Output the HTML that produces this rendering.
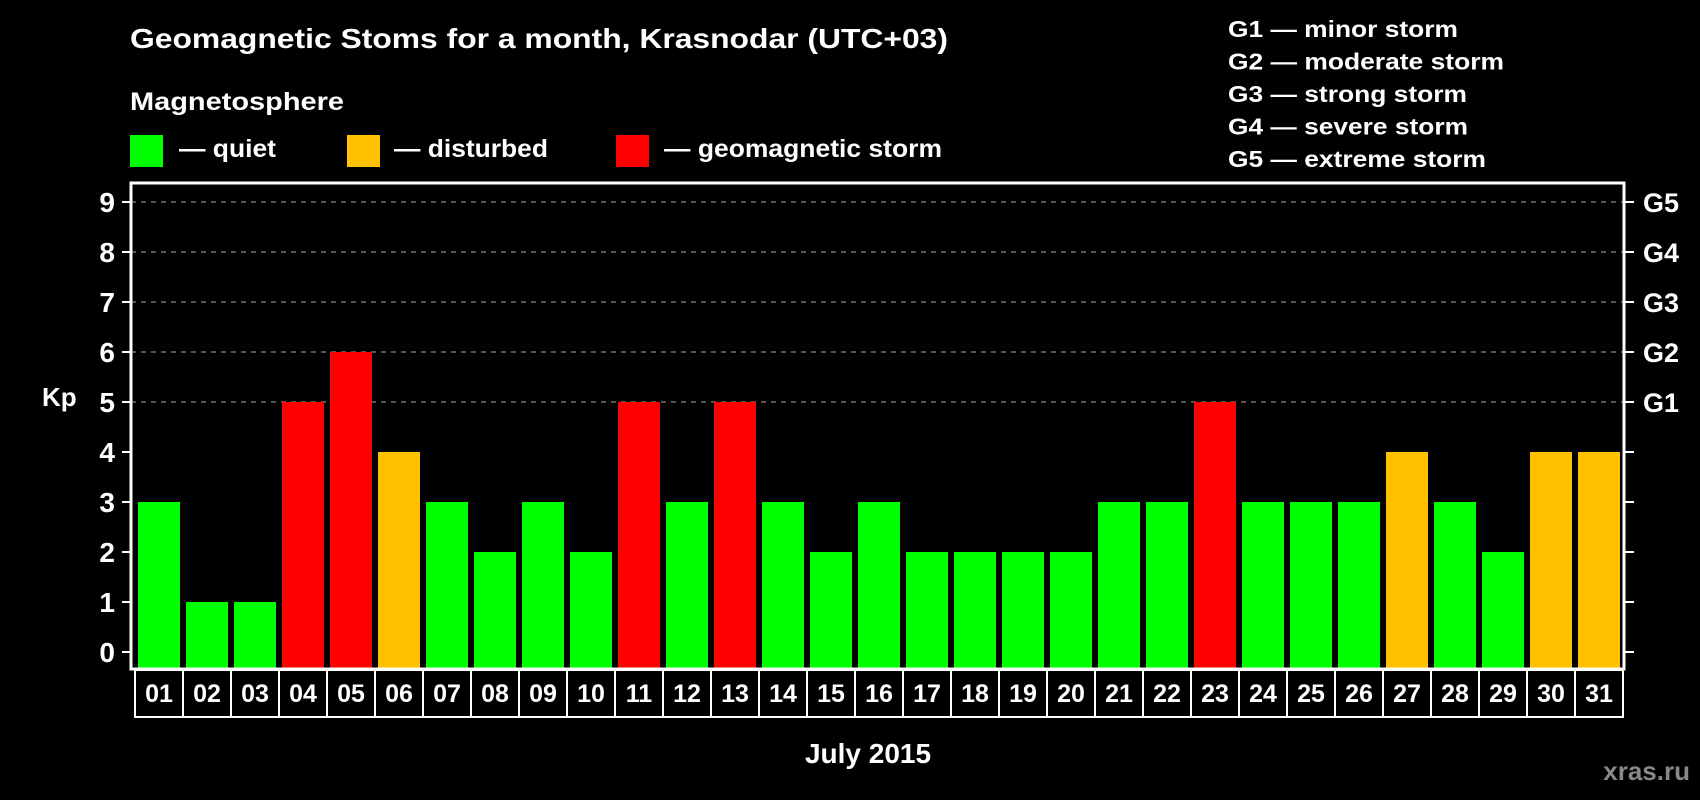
<!DOCTYPE html>
<html><head><meta charset="utf-8"><style>
body{margin:0;background:#000;}
svg{display:block;font-family:"Liberation Sans",Arial,sans-serif;font-weight:bold;}
</style></head><body>
<svg id="chart" width="1700" height="800" viewBox="0 0 1700 800">
<rect width="1700" height="800" fill="#000"/>
<text x="130" y="48" font-size="28" fill="#fff" textLength="818" lengthAdjust="spacingAndGlyphs">Geomagnetic Stoms for a month, Krasnodar (UTC+03)</text>
<text x="130" y="110" font-size="25" fill="#fff" textLength="214" lengthAdjust="spacingAndGlyphs">Magnetosphere</text>
<g><rect x="130" y="135" width="33" height="32" fill="#00ff00"/><text x="179" y="157" font-size="25" fill="#fff" textLength="97" lengthAdjust="spacingAndGlyphs">— quiet</text></g>
<g><rect x="347" y="135" width="33" height="32" fill="#ffc000"/><text x="394" y="157" font-size="25" fill="#fff" textLength="154" lengthAdjust="spacingAndGlyphs">— disturbed</text></g>
<g><rect x="616" y="135" width="33" height="32" fill="#ff0000"/><text x="664" y="157" font-size="25" fill="#fff" textLength="278" lengthAdjust="spacingAndGlyphs">— geomagnetic storm</text></g>
<g font-size="23" fill="#fff">
<text x="1228" y="37" textLength="230" lengthAdjust="spacingAndGlyphs">G1 — minor storm</text>
<text x="1228" y="69.5" textLength="276" lengthAdjust="spacingAndGlyphs">G2 — moderate storm</text>
<text x="1228" y="102" textLength="239" lengthAdjust="spacingAndGlyphs">G3 — strong storm</text>
<text x="1228" y="134.5" textLength="240" lengthAdjust="spacingAndGlyphs">G4 — severe storm</text>
<text x="1228" y="167" textLength="258" lengthAdjust="spacingAndGlyphs">G5 — extreme storm</text>
</g>
<g id="plot"></g>
<text x="42" y="406" font-size="26" fill="#fff">Kp</text>
<text x="868" y="763" font-size="28" fill="#fff" text-anchor="middle">July 2015</text>
<text x="1690" y="780" font-size="26" fill="#888" text-anchor="end">xras.ru</text>
</svg>
<script>
const days = ["01","02","03","04","05","06","07","08","09","10","11","12","13","14","15","16","17","18","19","20","21","22","23","24","25","26","27","28","29","30","31"];
const kpValues = [3,1,1,5,6,4,3,2,3,2,5,3,5,3,2,3,2,2,2,2,3,3,5,3,3,3,4,3,2,4,4];
const yTicks = [0,1,2,3,4,5,6,7,8,9];
const gLabels = ["G1","G2","G3","G4","G5"];
const gLevels = [5,6,7,8,9];

const NS = "http://www.w3.org/2000/svg";
const plot = document.getElementById("plot");
const plotLeft = 131, plotRight = 1624, plotTop = 183, plotBottom = 669;
const yScale = v => 652 - 50 * v;
const xScale = i => 138 + 48 * i;
const barW = 42;
function mk(tag, attrs, parent) {
  const e = document.createElementNS(NS, tag);
  for (const k in attrs) e.setAttribute(k, attrs[k]);
  (parent || plot).appendChild(e);
  return e;
}
function color(v) { return v >= 5 ? "#ff0000" : v >= 4 ? "#ffc000" : "#00ff00"; }

gLevels.forEach(v => {
  const l = mk("line", {x1: plotLeft, x2: plotRight, y1: yScale(v), y2: yScale(v), stroke: "#888", "stroke-width": 1.3, "stroke-dasharray": "5,5"});
  
  
});
kpValues.forEach((v, i) => {
  const r = mk("rect", {x: xScale(i), y: yScale(v), width: barW, height: 668 - yScale(v), fill: color(v)});
  
  
});
const frame = mk("rect", {x: plotLeft, y: plotTop, width: plotRight - plotLeft, height: plotBottom - plotTop, fill: "none", stroke: "#fff", "stroke-width": 3});


yTicks.forEach(v => {
  const t1 = mk("line", {x1: 122, x2: plotLeft, y1: yScale(v), y2: yScale(v), stroke: "#fff", "stroke-width": 2});
  
  
  const t2 = mk("line", {x1: plotRight, x2: 1634, y1: yScale(v), y2: yScale(v), stroke: "#fff", "stroke-width": 2});
  
  
  const tl = mk("text", {x: 115, y: yScale(v) + 10, "font-size": 28, fill: "#fff", "text-anchor": "end"});
  tl.textContent = v;
  
  
});
gLabels.forEach((g, i) => {
  const t = mk("text", {x: 1643, y: yScale(gLevels[i]) + 10, "font-size": 27, fill: "#fff"});
  t.textContent = g;
  
  
});
days.forEach((d, i) => {
  const bx = 135 + 48 * i;
  const b = mk("rect", {x: bx, y: 670, width: 48, height: 47, fill: "none", stroke: "#fff", "stroke-width": 2});
  
  
  const t = mk("text", {x: bx + 24, y: 702, "font-size": 25, fill: "#fff", "text-anchor": "middle"});
  t.textContent = d;
  
  
});
</script>
</body></html>
